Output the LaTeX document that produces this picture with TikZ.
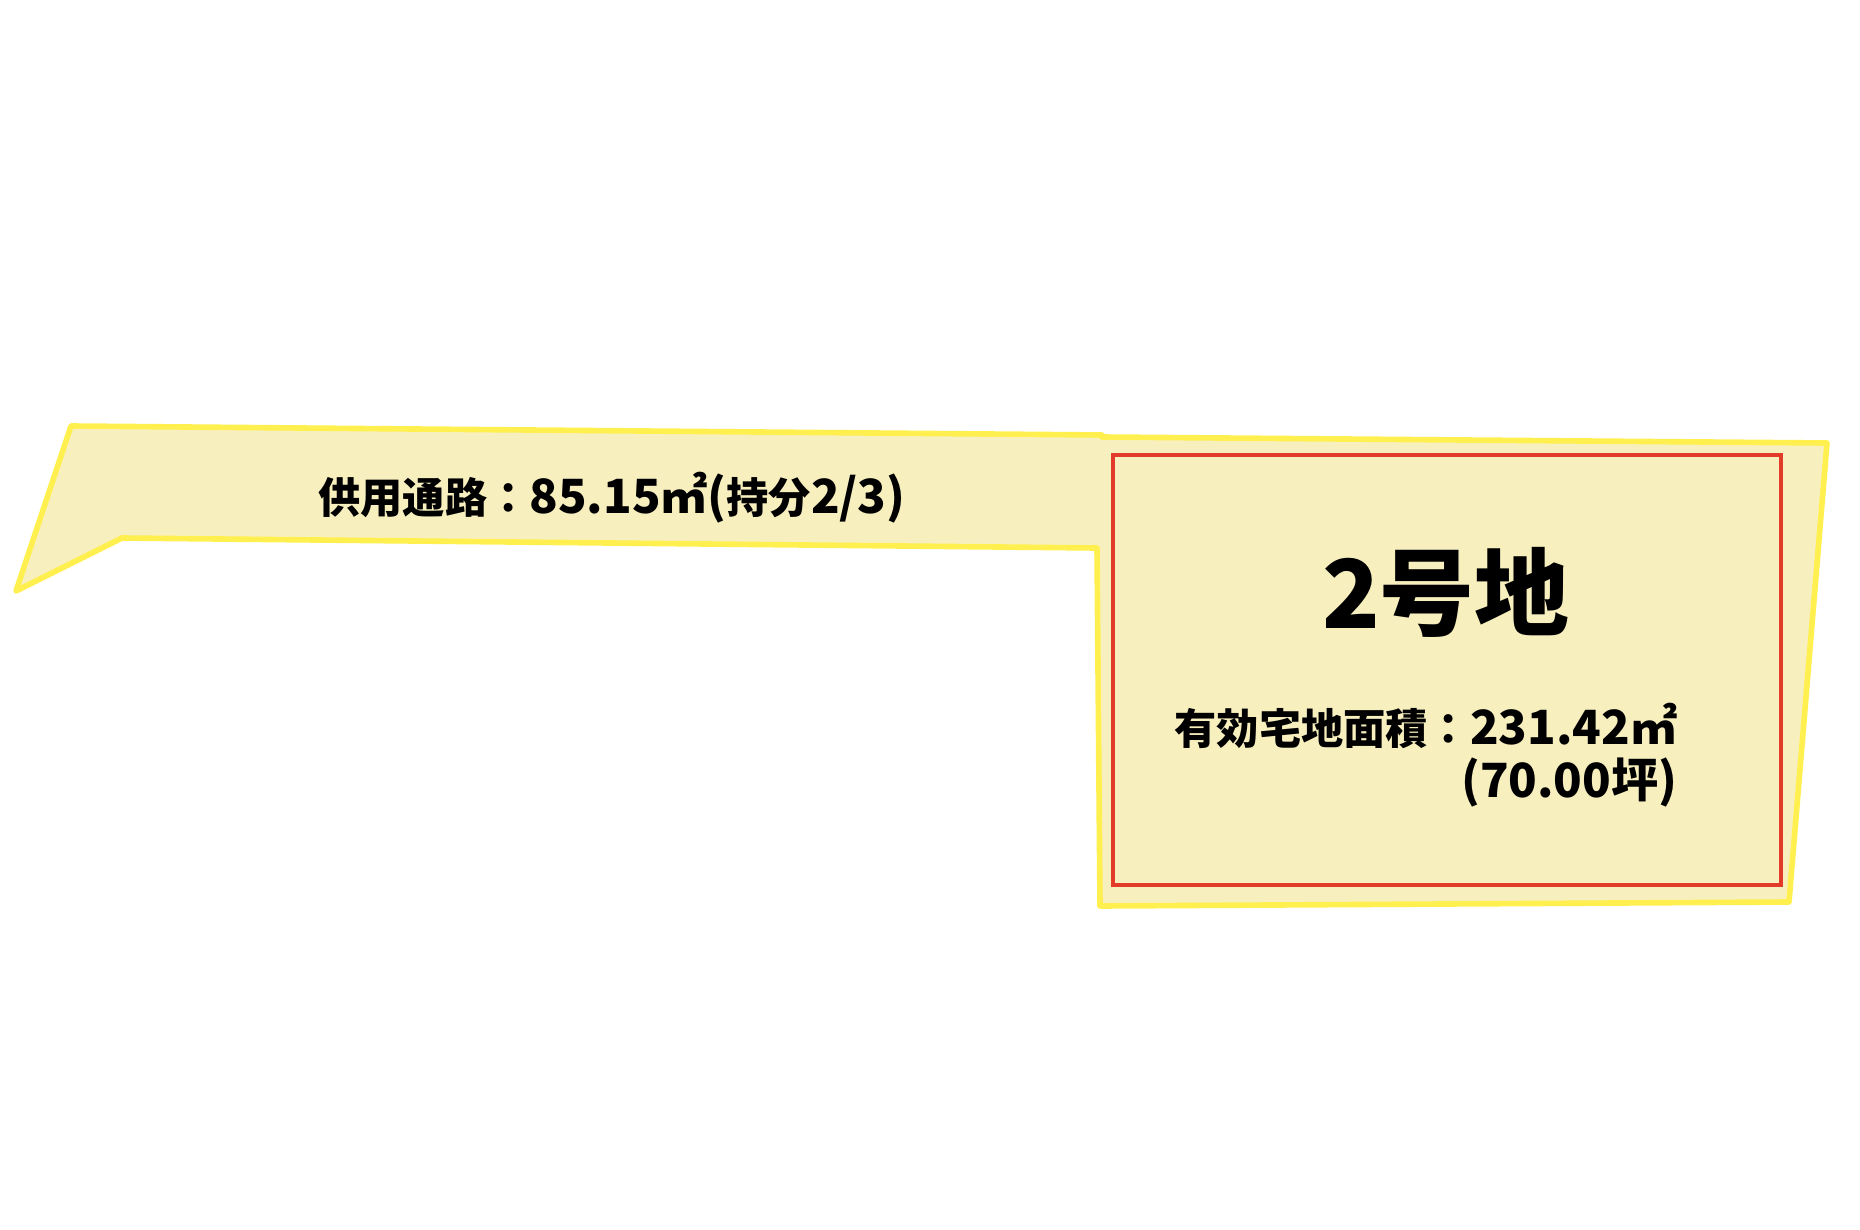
\documentclass[tikz,border=0pt]{standalone}
\usepackage{fontspec}
\setmainfont{Noto Sans CJK JP}
\usepackage{tikz}
\definecolor{lotfill}{RGB}{247,239,190}
\definecolor{lotline}{RGB}{255,240,80}
\definecolor{lotred}{RGB}{226,59,42}
\newcommand{\lotnum}[1]{{\fontsize{13.4}{15}\selectfont #1}}
\tikzset{
  plot/.style={draw=lotline,fill=lotfill,line width=1.6pt,line join=round},
  frame/.style={draw=lotred,line width=1.3pt},
  lbl/.style={font=\bfseries\fontsize{12}{14}\selectfont,inner sep=0pt}
}

\begin{document}
\begin{tikzpicture}[x=0.01cm,y=-0.01cm]
			\useasboundingbox (0,0) rectangle (1860,1230);
			% road and lot outline
			\draw[plot] (71,426) -- (1102,435) -- (1102,437) -- (1827,443) -- (1789,902)
				-- (1100,906) -- (1097,548) -- (122,538) -- (16,591) -- cycle;
			\draw[frame] (1113,455) rectangle (1781,885);
			
			\node[lbl] (road) at (612,498) {供用通路：\lotnum{85.15㎡(}持分\lotnum{2/3)}};
			\node[lbl,font=\bfseries\fontsize{27}{30}\selectfont] (lotno) at (1446,592) {2号地};
			\node[lbl,align=right,anchor=east] (area) at (1678,755)
				{有効宅地面積：\lotnum{231.42㎡}\\[1pt]\lotnum{(70.00坪)}};
		\end{tikzpicture}
\end{document}
